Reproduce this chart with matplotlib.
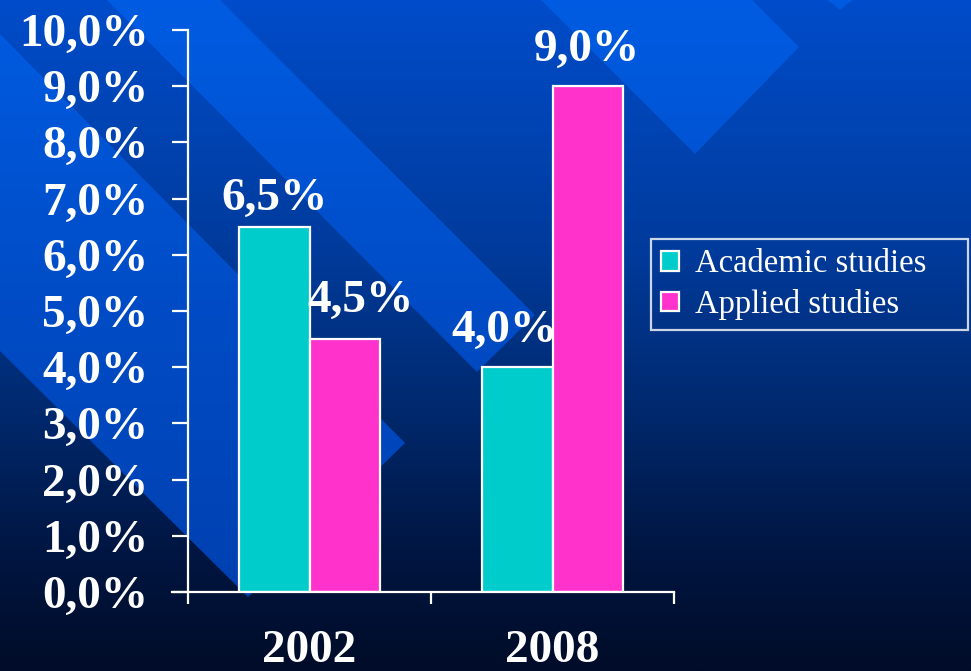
import numpy as np
import matplotlib
matplotlib.use("Agg")
import matplotlib.pyplot as plt
from matplotlib.colors import LinearSegmentedColormap
from matplotlib.patches import Polygon

# data
years = ["2002", "2008"]
series_names = ["Academic studies", "Applied studies"]
academic = [6.5, 4.0]
applied = [4.5, 9.0]
yticks = [0, 1, 2, 3, 4, 5, 6, 7, 8, 9, 10]

# value label nudges (points): (dx, dy) per bar
academic_off = [(0, 12), (-9, 18)]
applied_off = [(11, 19.5), (-1, 18.5)]

colors = ["#00CCCC", "#FF33CC"]
W, H = 971, 671

plt.rcParams["font.family"] = ["Liberation Serif", "DejaVu Serif"]

fig = plt.figure(figsize=(W / 100, H / 100), dpi=100)

# background: vertical gradient with lighter diagonal bands
bg = fig.add_axes([0, 0, 1, 1])
bg.set_xlim(0, W)
bg.set_ylim(H, 0)
bg.axis("off")
bg_cmap = LinearSegmentedColormap.from_list(
    "bg", [(0, "#004cca"), (0.37, "#003b9c"), (0.6, "#002a70"),
           (0.82, "#001642"), (1, "#000c28")])
band_cmap = LinearSegmentedColormap.from_list(
    "band", [(0, "#005ce2"), (0.45, "#004cc6"), (0.9, "#0040b0"), (1, "#003ca8")])
grad = np.linspace(0, 1, 256).reshape(-1, 1)
bg.imshow(grad, cmap=bg_cmap, extent=[0, W, H, 0], aspect="auto", zorder=0)

bands = [
    [(0, 34), (405, 443), (248, 597), (0, 351)],
    [(107, 0), (220, 0), (535, 315), (477, 372)],
    [(541, 0), (752, 0), (799, 47), (695, 154)],
    [(828, 0), (852, 0), (840, 10)],
]
for pts in bands:
    poly = Polygon(pts, closed=True, facecolor="none", edgecolor="none")
    bg.add_patch(poly)
    im = bg.imshow(grad, cmap=band_cmap, extent=[0, W, H, 0], aspect="auto", zorder=1)
    im.set_clip_path(poly)

# main chart
ax = fig.add_axes([188 / W, 79 / H, 486 / W, 562 / H])
ax.set_zorder(2)
ax.patch.set_alpha(0)

x = np.arange(len(years)) + 0.5
w = 0.29
b1 = ax.bar(x - w / 2, academic, w, color=colors[0], edgecolor="white",
            linewidth=1.6, label=series_names[0])
b2 = ax.bar(x + w / 2, applied, w, color=colors[1], edgecolor="white",
            linewidth=1.6, label=series_names[1])

def fmt(v):
    return f"{v:.1f}%".replace(".", ",")

for rects, offs in [(b1, academic_off), (b2, applied_off)]:
    for r, (dx, dy) in zip(rects, offs):
        ax.annotate(fmt(r.get_height()), (r.get_x() + r.get_width() / 2, r.get_height()),
                    xytext=(dx, dy), textcoords="offset points", ha="center",
                    va="baseline", color="white", fontsize=34, fontweight="bold")

ax.set_xlim(0, 2)
ax.set_ylim(0, 10)
ax.set_yticks(yticks)
ax.set_yticklabels([fmt(v) for v in yticks])
ax.set_xticks([0, 1, 2])
ax.set_xticklabels([])
ax.set_xticks(x, years, minor=True)

for s in ["top", "right"]:
    ax.spines[s].set_visible(False)
for s in ["left", "bottom"]:
    ax.spines[s].set_color("white")
    ax.spines[s].set_linewidth(1.6)
ax.spines["bottom"].set_bounds(-16 / 243, 2)

ax.tick_params(axis="y", direction="out", length=11.5, width=1.6, color="white",
               labelcolor="white", labelsize=34, pad=17)
ax.tick_params(axis="x", which="major", direction="out", length=8.5, width=1.6,
               color="white")
ax.tick_params(axis="x", which="minor", length=0, pad=27, labelcolor="white",
               labelsize=34)
for lab in ax.get_yticklabels() + ax.get_xticklabels(minor=True):
    lab.set_fontweight("bold")

leg = fig.legend(handles=[b1, b2], loc="center", mode="expand",
                 bbox_to_anchor=(651 / W, 342 / H, 317 / W, 89 / H),
                 frameon=True, fancybox=False, fontsize=23.5, labelcolor="white",
                 handlelength=0.55, handleheight=0.55, handletextpad=0.5,
                 labelspacing=0.3, borderpad=0.3, borderaxespad=0)
leg.get_frame().set_facecolor("none")
leg.get_frame().set_edgecolor("white")
leg.get_frame().set_linewidth(1.6)
leg.set_zorder(3)

fig.savefig("out.png", dpi=100)
